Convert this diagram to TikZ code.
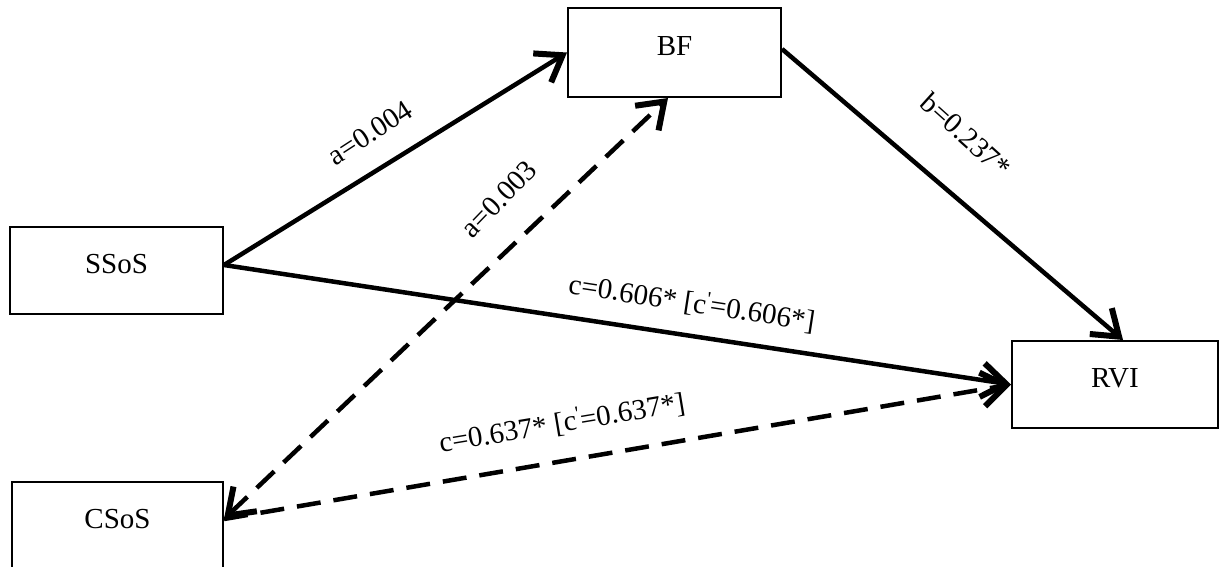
\documentclass[tikz,border=0pt]{standalone}
\usepackage{fontspec}
\setmainfont{Liberation Serif}
\usetikzlibrary{arrows.meta}
\tikzset{
  box/.style={draw, line width=2pt, inner sep=0pt, minimum width=213pt, minimum height=87pt,
              font=\fontsize{29}{34}\selectfont, text height=20pt, text depth=15pt},
  lbl/.style={font=\fontsize{29}{34}\selectfont, inner sep=0pt},
  conn/.style={line width=4.5pt, -{Straight Barb[length=24pt,width=34pt,line width=6pt]}},
  dashedconn/.style={conn, dash pattern=on 24pt off 13pt},
}
\begin{document}
\begin{tikzpicture}[x=1pt,y=-1pt]
\useasboundingbox (0,0) rectangle (1220,566);
\node[box, minimum width=213pt, minimum height=89pt] (BF) at (674.5,52.5) {BF};
\node[box] (SSoS) at (116.5,270.5) {SSoS};
\node[box, minimum width=206pt] (RVI) at (1115,384.5) {RVI};
\node[box, minimum width=211pt] (CSoS) at (117.5,525.5) {CSoS};

\coordinate (s1) at ([yshift=5.5pt]SSoS.east);
\coordinate (c1) at ([yshift=6.5pt]CSoS.east);
\coordinate (bfs) at ([xshift=-6.5pt]BF.south);
\coordinate (bfe) at ([yshift=3.5pt]BF.east);
\coordinate (rvn) at ([xshift=8pt]RVI.north);

\draw[conn] (s1) -- (BF.west);
\draw[dashedconn, {Straight Barb[length=24pt,width=34pt,line width=6pt]}-{Straight Barb[length=24pt,width=34pt,line width=6pt]}] (c1) -- (bfs);
\draw[conn] (bfe) -- (rvn);
\draw[conn] (s1) -- (RVI.west);
\draw[dashedconn] (c1) -- (RVI.west);

\node[lbl, rotate=33] (la) at (370,133) {a=0.004};
\node[lbl, rotate=46] (lb) at (499,199) {a=0.003};
\node[lbl, rotate=-42] (lc) at (966,135) {b=0.237*};
\node[lbl, rotate=-8.7] (ld) at (692,303) {c=0.606* [c\textsuperscript{\textquotesingle}=0.606*]};
\node[lbl, rotate=9.5] (le) at (562,423) {c=0.637* [c\textsuperscript{\textquotesingle}=0.637*]};
\end{tikzpicture}
\end{document}
